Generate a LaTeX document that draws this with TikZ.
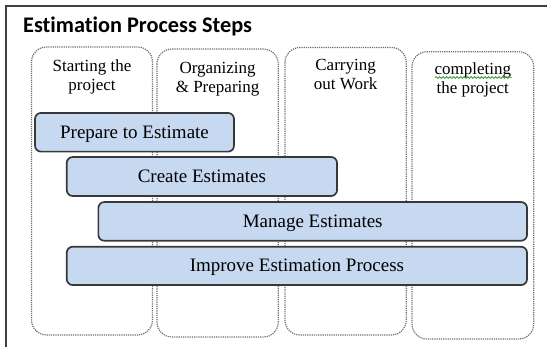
\documentclass[tikz,border=0pt]{standalone}
\usepackage{fontspec}
\setmainfont{Liberation Serif}
\newfontfamily\titlefont[Ligatures=NoCommon]{Carlito}
\usetikzlibrary{decorations.pathmorphing}
\definecolor{boxblue}{HTML}{C6D9F1}
\definecolor{boxline}{HTML}{383838}
\definecolor{phaseline}{HTML}{6E6E6E}
\definecolor{spellgreen}{HTML}{3C9A3C}

\begin{document}
\begin{tikzpicture}[x=1pt, y=-1pt,
  phase/.style={phaseline, densely dotted, line width=1.2pt, rounded corners=15pt},
  phaselabel/.style={anchor=north, inner sep=0pt, align=center, font=\fontsize{17}{19}\selectfont},
  stepbox/.style={draw=boxline, fill=boxblue, line width=1.7pt, rounded corners=6pt, inner sep=0pt,
    text height=13pt, text depth=1pt, font=\fontsize{19}{22}\selectfont}]
\useasboundingbox (0,0) rectangle (547,347);
\draw[black!75, line width=2pt] (6,350) -- (6,6) -- (550,6);
\node[anchor=base west, inner sep=0pt, font=\titlefont\bfseries\fontsize{22.3}{25}\selectfont] (title) at (23,32.5) {Estimation Process Steps};

\draw[phase] (31.5,47) rectangle (152.5,335);
\draw[phase] (157,49) rectangle (278.3,337);
\draw[phase] (285,47.5) rectangle (406.3,335);
\draw[phase] (412,51.7) rectangle (533.7,339);

\node[phaselabel] (start) at (92,60) {Starting the\\project};
\node[phaselabel] (organize) at (217.6,62.5) {Organizing\\\& Preparing};
\node[phaselabel] (carry) at (345.6,59.5) {Carrying\\out Work};
\node[phaselabel] (complete) at (472.8,62.3) {completing\\the project};
\draw[spellgreen, line width=0.8pt, decorate, decoration={snake, amplitude=0.9pt, segment length=3.5pt}] (435,77.5) -- (511.5,77.5);

\node[stepbox, minimum width=199pt, minimum height=38.7pt] (prepare) at (134.5,132.3) {Prepare to Estimate};
\node[stepbox, minimum width=270.3pt, minimum height=39pt] (create) at (201.9,176.5) {Create Estimates};
\node[stepbox, minimum width=428.7pt, minimum height=38.7pt] (manage) at (312.7,221.4) {Manage Estimates};
\node[stepbox, minimum width=460.3pt, minimum height=38.3pt] (improve) at (296.9,265.9) {Improve Estimation Process};
\end{tikzpicture}
\end{document}
